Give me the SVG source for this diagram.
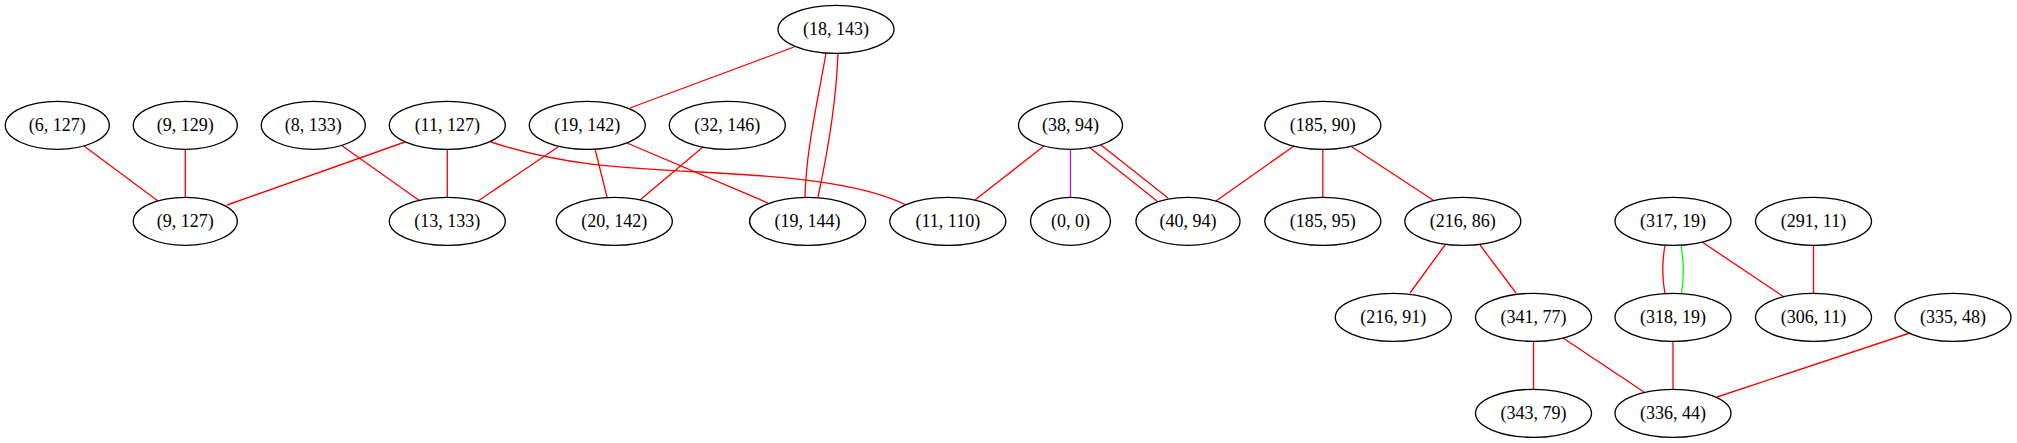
<svg xmlns="http://www.w3.org/2000/svg" width="2017" height="443" viewBox="0 0 2017 443">
<style>
.n ellipse{fill:none;stroke:#000;stroke-width:1.33}
.n text{font-family:"Liberation Serif","Times New Roman",serif;font-size:18px;text-anchor:middle;fill:#000}
#edges path,#edges line{fill:none;stroke:#ff0000;stroke-width:1.33}
#edges .p{stroke:#a020f0}
#edges .g{stroke:#00ff00}
</style>
<rect width="2017" height="443" fill="#fff"/>
<g id="edges">
<line x1="794" y1="47" x2="630" y2="108"/>
<path d="M826,53 C818,100 806,150 805,197"/>
<path d="M838,53 C836,110 826,160 818,197"/>
<line x1="84" y1="146" x2="158" y2="201"/>
<line x1="185.3" y1="149.3" x2="185.3" y2="197.3"/>
<line x1="341" y1="145" x2="420" y2="201"/>
<line x1="405" y1="142" x2="227" y2="205"/>
<line x1="447.3" y1="149.3" x2="447.3" y2="197.3"/>
<path d="M491,142 C560,165 620,168 700,172 C780,176 860,182 906,205"/>
<line x1="558" y1="147" x2="478" y2="201"/>
<line x1="595" y1="149" x2="607" y2="197"/>
<line x1="627" y1="143" x2="768" y2="203"/>
<line x1="703" y1="147" x2="640" y2="200"/>
<line x1="1044" y1="146" x2="975" y2="200"/>
<line class="p" x1="1070.5" y1="149.3" x2="1070.5" y2="197.3"/>
<line x1="1089" y1="147" x2="1157" y2="201"/>
<line x1="1101" y1="145" x2="1168" y2="198"/>
<line x1="1294" y1="146" x2="1216" y2="201"/>
<line x1="1322.8" y1="149.3" x2="1322.8" y2="197.3"/>
<line x1="1352" y1="147" x2="1433" y2="200"/>
<line x1="1445" y1="245" x2="1410" y2="293"/>
<line x1="1480" y1="245" x2="1516" y2="293"/>
<path d="M1665,245.5 C1662,262 1662,278 1665,293.5"/>
<path class="g" d="M1681,245.5 C1684,262 1684,278 1681.5,293.5"/>
<line x1="1702" y1="242" x2="1784" y2="297"/>
<line x1="1813.5" y1="245.3" x2="1813.5" y2="293.3"/>
<line x1="1533.5" y1="341.3" x2="1533.5" y2="389.3"/>
<line x1="1563" y1="338" x2="1644" y2="392"/>
<line x1="1673" y1="341.3" x2="1673" y2="389.3"/>
<line x1="1910" y1="333" x2="1717" y2="397"/>
</g>
<g id="n18_143" class="n"><ellipse cx="836" cy="29.3" rx="58" ry="24"/><text x="836" y="35.3">(18, 143)</text></g>
<g id="n6_127" class="n"><ellipse cx="57.3" cy="125.3" rx="52" ry="24"/><text x="57.3" y="131.3">(6, 127)</text></g>
<g id="n9_129" class="n"><ellipse cx="185.3" cy="125.3" rx="52" ry="24"/><text x="185.3" y="131.3">(9, 129)</text></g>
<g id="n8_133" class="n"><ellipse cx="313.3" cy="125.3" rx="52" ry="24"/><text x="313.3" y="131.3">(8, 133)</text></g>
<g id="n11_127" class="n"><ellipse cx="447.3" cy="125.3" rx="58" ry="24"/><text x="447.3" y="131.3">(11, 127)</text></g>
<g id="n19_142" class="n"><ellipse cx="587.3" cy="125.3" rx="58" ry="24"/><text x="587.3" y="131.3">(19, 142)</text></g>
<g id="n32_146" class="n"><ellipse cx="727.3" cy="125.3" rx="58" ry="24"/><text x="727.3" y="131.3">(32, 146)</text></g>
<g id="n38_94" class="n"><ellipse cx="1070.5" cy="125.3" rx="52" ry="24"/><text x="1070.5" y="131.3">(38, 94)</text></g>
<g id="n185_90" class="n"><ellipse cx="1322.8" cy="125.3" rx="58" ry="24"/><text x="1322.8" y="131.3">(185, 90)</text></g>
<g id="n9_127" class="n"><ellipse cx="185.3" cy="221.3" rx="52" ry="24"/><text x="185.3" y="227.3">(9, 127)</text></g>
<g id="n13_133" class="n"><ellipse cx="447.3" cy="221.3" rx="58" ry="24"/><text x="447.3" y="227.3">(13, 133)</text></g>
<g id="n20_142" class="n"><ellipse cx="614.3" cy="221.3" rx="58" ry="24"/><text x="614.3" y="227.3">(20, 142)</text></g>
<g id="n19_144" class="n"><ellipse cx="807.6" cy="221.3" rx="58" ry="24"/><text x="807.6" y="227.3">(19, 144)</text></g>
<g id="n11_110" class="n"><ellipse cx="947.8" cy="221.3" rx="58" ry="24"/><text x="947.8" y="227.3">(11, 110)</text></g>
<g id="n0_0" class="n"><ellipse cx="1070.5" cy="221.3" rx="40" ry="24"/><text x="1070.5" y="227.3">(0, 0)</text></g>
<g id="n40_94" class="n"><ellipse cx="1188" cy="221.3" rx="52" ry="24"/><text x="1188" y="227.3">(40, 94)</text></g>
<g id="n185_95" class="n"><ellipse cx="1322.8" cy="221.3" rx="58" ry="24"/><text x="1322.8" y="227.3">(185, 95)</text></g>
<g id="n216_86" class="n"><ellipse cx="1462.8" cy="221.3" rx="58" ry="24"/><text x="1462.8" y="227.3">(216, 86)</text></g>
<g id="n317_19" class="n"><ellipse cx="1673" cy="221.3" rx="58" ry="24"/><text x="1673" y="227.3">(317, 19)</text></g>
<g id="n291_11" class="n"><ellipse cx="1813.5" cy="221.3" rx="58" ry="24"/><text x="1813.5" y="227.3">(291, 11)</text></g>
<g id="n216_91" class="n"><ellipse cx="1393.3" cy="317.3" rx="58" ry="24"/><text x="1393.3" y="323.3">(216, 91)</text></g>
<g id="n341_77" class="n"><ellipse cx="1533.5" cy="317.3" rx="58" ry="24"/><text x="1533.5" y="323.3">(341, 77)</text></g>
<g id="n318_19" class="n"><ellipse cx="1673" cy="317.3" rx="58" ry="24"/><text x="1673" y="323.3">(318, 19)</text></g>
<g id="n306_11" class="n"><ellipse cx="1813.5" cy="317.3" rx="58" ry="24"/><text x="1813.5" y="323.3">(306, 11)</text></g>
<g id="n335_48" class="n"><ellipse cx="1953" cy="317.3" rx="58" ry="24"/><text x="1953" y="323.3">(335, 48)</text></g>
<g id="n343_79" class="n"><ellipse cx="1533.5" cy="413.3" rx="58" ry="24"/><text x="1533.5" y="419.3">(343, 79)</text></g>
<g id="n336_44" class="n"><ellipse cx="1673" cy="413.3" rx="58" ry="24"/><text x="1673" y="419.3">(336, 44)</text></g>
</svg>
